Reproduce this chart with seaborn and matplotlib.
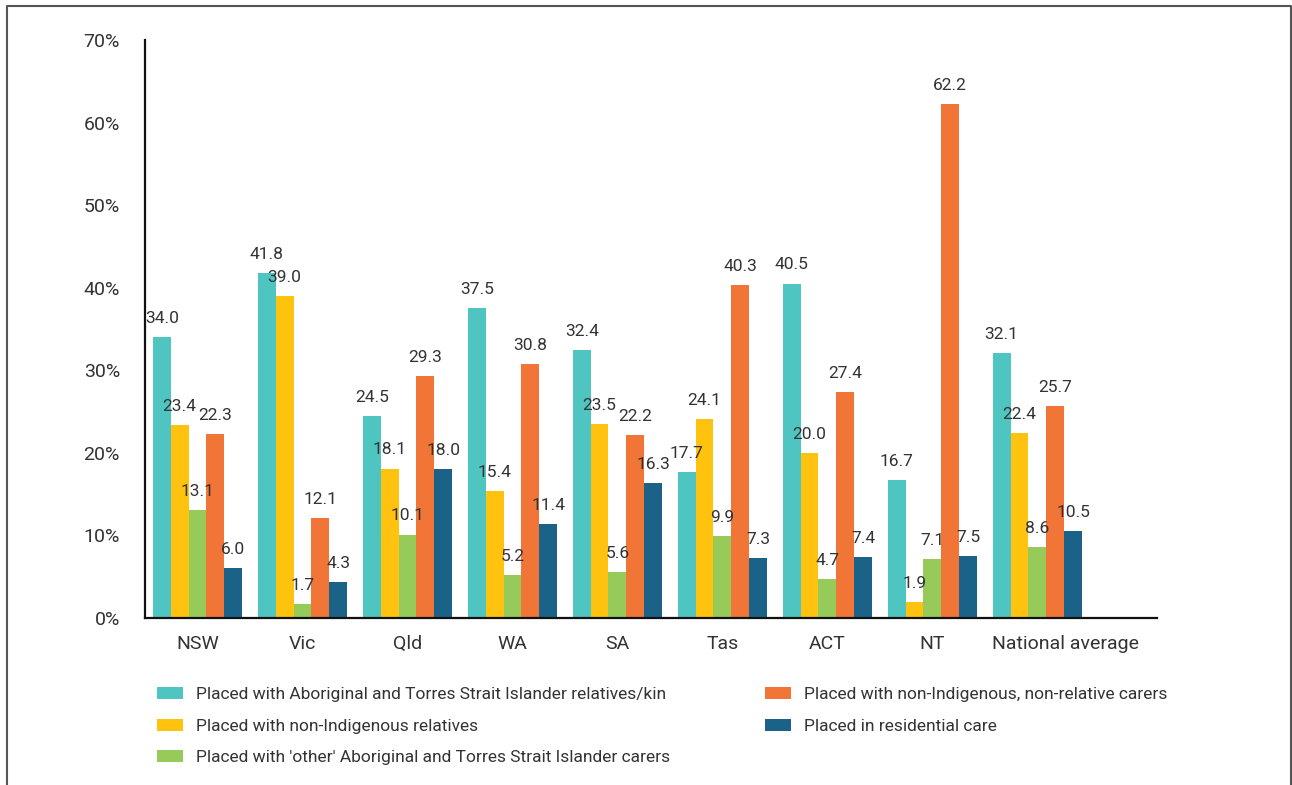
import matplotlib
matplotlib.use("Agg")
import matplotlib.pyplot as plt
import seaborn as sns
import pandas as pd
from matplotlib.patches import Patch
from matplotlib.lines import Line2D

# Categories and series
states = ["NSW", "Vic", "Qld", "WA", "SA", "Tas", "ACT", "NT", "National average"]
series = [
    "Placed with Aboriginal and Torres Strait Islander relatives/kin",
    "Placed with non-Indigenous relatives",
    "Placed with 'other' Aboriginal and Torres Strait Islander carers",
    "Placed with non-Indigenous, non-relative carers",
    "Placed in residential care",
]
kin = [34.0, 41.8, 24.5, 37.5, 32.4, 17.7, 40.5, 16.7, 32.1]
non_ind_rel = [23.4, 39.0, 18.1, 15.4, 23.5, 24.1, 20.0, 1.9, 22.4]
other_atsi = [13.1, 1.7, 10.1, 5.2, 5.6, 9.9, 4.7, 7.1, 8.6]
non_ind_non_rel = [22.3, 12.1, 29.3, 30.8, 22.2, 40.3, 27.4, 62.2, 25.7]
residential = [6.0, 4.3, 18.0, 11.4, 16.3, 7.3, 7.4, 7.5, 10.5]
yticks = [0, 10, 20, 30, 40, 50, 60, 70]

colors = ["#4EC5C1", "#FFC20E", "#97CB59", "#F07537", "#1A6288"]
text_col = "#333333"

rows = []
for name, vals in zip(series, [kin, non_ind_rel, other_atsi, non_ind_non_rel, residential]):
    for st, v in zip(states, vals):
        rows.append({"state": st, "series": name, "value": v})
df = pd.DataFrame(rows)

sns.set_style("white")
plt.rcParams["font.family"] = ["Roboto", "DejaVu Sans"]

fig = plt.figure(figsize=(12.92, 7.85), dpi=100)
ax = fig.add_axes([145 / 1292, 1 - 618 / 785, (1157 - 145) / 1292, (618 - 40) / 785])

sns.barplot(data=df, x="state", y="value", hue="series", hue_order=series,
            order=states, palette=colors, width=0.85, saturation=1,
            linewidth=0, edgecolor="none", legend=False, ax=ax)

for cont in ax.containers:
    ax.bar_label(cont, fmt="%.1f", padding=8, fontsize=12.5, color=text_col)

ax.set_ylim(0, 70)
ax.set_xlim(-0.5, 9.14)
ax.set_yticks(yticks)
ax.set_yticklabels([f"{t}%" for t in yticks], fontsize=14, color=text_col)
xt = list(range(len(states)))
xt[-1] = xt[-1] + 0.27
ax.set_xticks(xt)
ax.set_xticklabels(states, fontsize=14, color=text_col)
ax.tick_params(axis="y", length=0, pad=18)
ax.tick_params(axis="x", length=0, pad=12)
ax.set_xlabel("")
ax.set_ylabel("")
for s in ["top", "right"]:
    ax.spines[s].set_visible(False)
for s in ["left", "bottom"]:
    ax.spines[s].set_color("#111111")
    ax.spines[s].set_linewidth(1.6)

handles = [Patch(facecolor=c, edgecolor="none") for c in colors]
leg_kw = dict(frameon=False, fontsize=12.5, handlelength=1.52, handleheight=0.7,
              handletextpad=0.75, labelspacing=0.95, borderpad=0, borderaxespad=0,
              labelcolor=text_col)
leg1 = fig.legend(handles[:3], series[:3], loc="upper left",
                  bbox_to_anchor=(157 / 1292, 1 - 687 / 785), **leg_kw)
leg2 = fig.legend(handles[3:], series[3:], loc="upper left",
                  bbox_to_anchor=(765 / 1292, 1 - 687 / 785), **leg_kw)

# outer frame (open at the bottom)
fx0, fx1, fy1 = 6.5 / 1292, 1291 / 1292, 1 - 6 / 785
fig.add_artist(Line2D([fx0, fx0, fx1, fx1], [0, fy1, fy1, 0], color="#555555",
                      lw=1.5, transform=fig.transFigure))

fig.savefig("out.png", dpi=100)
